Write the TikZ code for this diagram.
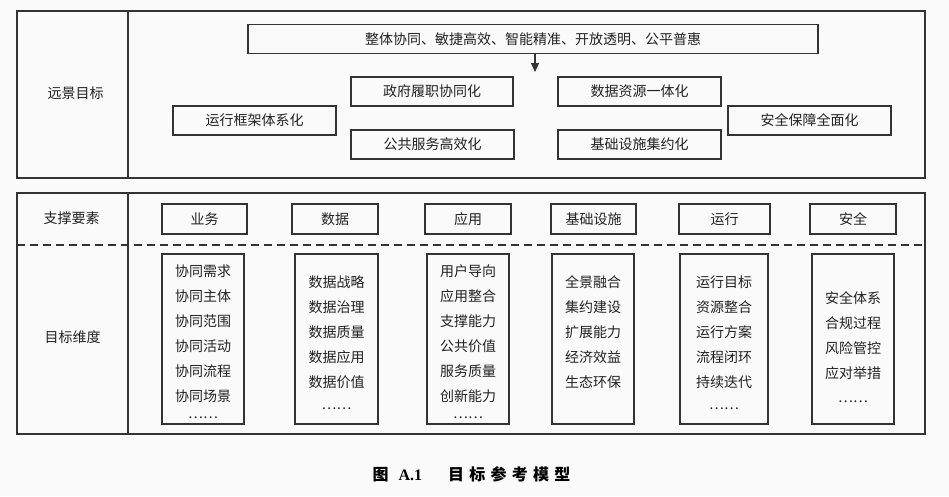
\documentclass[tikz,border=0pt]{standalone}
\usepackage{fontspec}
\setmainfont{Noto Sans CJK SC}
\newfontfamily\capserif{Liberation Serif}
\usetikzlibrary{arrows.meta}
\definecolor{linec}{HTML}{333333}
\definecolor{bgc}{HTML}{FAFAFA}
\definecolor{txtc}{HTML}{222222}
\tikzset{
  frame/.style={draw=linec, line width=1.3pt},
  goalbox/.style={draw=linec, line width=1.1pt, minimum height=29pt, inner sep=0pt,
    text=txtc, font=\fontsize{14}{14}\selectfont},
  elembox/.style={draw=linec, line width=1.1pt, minimum height=30pt, inner sep=0pt,
    text=txtc, font=\fontsize{14}{14}\selectfont},
  dimbox/.style={draw=linec, line width=1.1pt, minimum height=170pt, inner sep=0pt},
  dimtext/.style={inner sep=0pt, anchor=base, align=center, text=txtc,
    font=\fontsize{14}{25}\selectfont},
  rowlab/.style={text=txtc, font=\fontsize{14}{14}\selectfont},
  arr/.style={draw=linec, line width=1.1pt, -{Triangle[length=9pt,width=8pt]}}
}
\begin{document}
\begin{tikzpicture}[x=1pt,y=-1pt]
\fill[bgc] (0,0) rectangle (949,496);
\useasboundingbox (0,0) rectangle (949,496);
% frames
\draw[frame] (17,11) rectangle (925,178);
\draw[frame] (128,11) -- (128,178);
\draw[frame] (17,193) rectangle (925,434);
\draw[frame] (128,193) -- (128,434);
\draw[draw=linec, line width=1.2pt, dash pattern=on 8pt off 5pt] (17,245) -- (925,245);
% row labels
\node[rowlab] (l1) at (75.5,93) {远景目标};
\node[rowlab] (l2) at (71.5,218) {支撑要素};
\node[rowlab] (l3) at (72.5,337) {目标维度};
% vision goals
\node[goalbox, minimum width=570pt] (vision) at (533,39) {整体协同、敏捷高效、智能精准、开放透明、公平普惠};
\node[goalbox, minimum width=162pt] (gov) at (432,91.5) {政府履职协同化};
\node[goalbox, minimum width=163pt] (pub) at (432.5,144.5) {公共服务高效化};
\node[goalbox, minimum width=163pt] (runf) at (254.5,120.5) {运行框架体系化};
\node[goalbox, minimum width=163pt] (datar) at (639.5,91.5) {数据资源一体化};
\node[goalbox, minimum width=163pt] (infra) at (639.5,144.5) {基础设施集约化};
\node[goalbox, minimum width=163pt] (secg) at (809.5,120.5) {安全保障全面化};
\coordinate (tip) at (535,72);
\draw[arr] (vision.south -| tip) -- (tip);
% support elements
\node[elembox, minimum width=85pt] (e1) at (204.5,219) {业务};
\node[elembox, minimum width=86pt] (e2) at (335,219) {数据};
\node[elembox, minimum width=86pt] (e3) at (468,219) {应用};
\node[elembox, minimum width=85pt] (e4) at (593.5,219) {基础设施};
\node[elembox, minimum width=91pt] (e5) at (724.5,219) {运行};
\node[elembox, minimum width=86pt] (e6) at (853,219) {安全};
% dimensions
\node[dimbox, minimum width=82pt] (d1) at (203,339) {};
\node[dimbox, minimum width=83pt] (d2) at (336.5,339) {};
\node[dimbox, minimum width=82pt] (d3) at (468,339) {};
\node[dimbox, minimum width=82pt] (d4) at (593,339) {};
\node[dimbox, minimum width=88pt] (d5) at (724,339) {};
\node[dimbox, minimum width=82pt] (d6) at (853,339) {};
\node[dimtext] (t1) at (203,418)
  {协同需求\\协同主体\\协同范围\\协同活动\\协同流程\\协同场景\\[-8pt]……};
\node[dimtext] (t2) at (336.5,409)
  {数据战略\\数据治理\\数据质量\\数据应用\\数据价值\\[-3pt]……};
\node[dimtext] (t3) at (468,418)
  {用户导向\\应用整合\\支撑能力\\公共价值\\服务质量\\创新能力\\[-8pt]……};
\node[dimtext] (t4) at (593,387.3)
  {全景融合\\集约建设\\扩展能力\\经济效益\\生态环保};
\node[dimtext] (t5) at (724,409)
  {运行目标\\资源整合\\运行方案\\流程闭环\\持续迭代\\[-3pt]……};
\node[dimtext] (t6) at (853,402)
  {安全体系\\合规过程\\风险管控\\应对举措\\[-1pt]……};
% caption
\node[text=black, font=\fontsize{16}{16}\selectfont\bfseries] (cap) at (471.5,474)
  {图\hspace{10pt}{\capserif A.1}\hspace{26pt}{\addfontfeature{LetterSpace=33}目标参考模型}};
\end{tikzpicture}
\end{document}
